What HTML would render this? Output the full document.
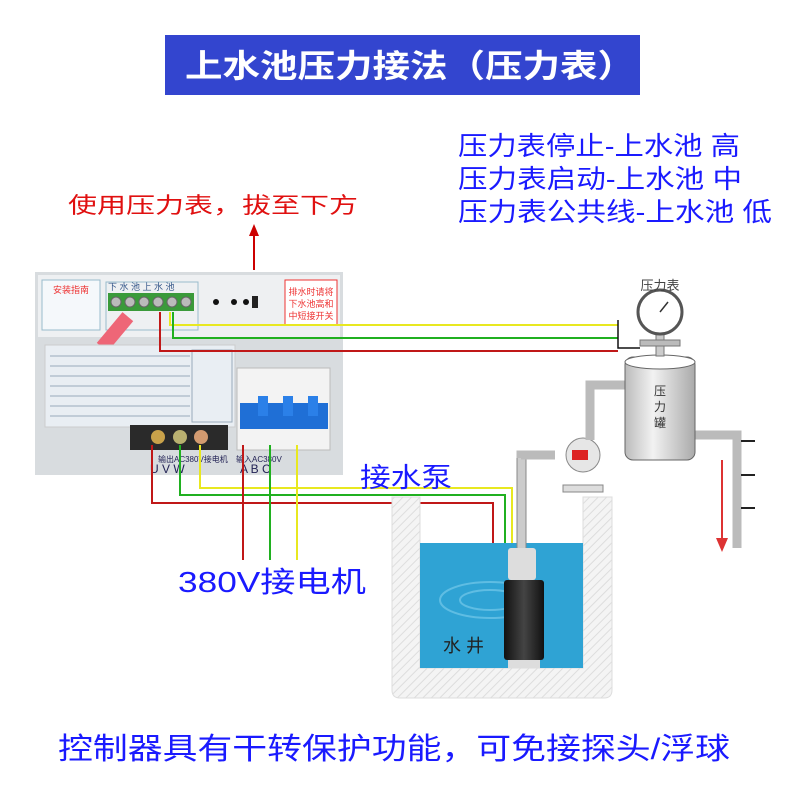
<!DOCTYPE html>
<html><head><meta charset="utf-8"><style>
body{margin:0;width:800px;height:800px;background:#fff;overflow:hidden}
svg{display:block}
text{font-family:"Liberation Sans","Noto Sans CJK SC",sans-serif}
</style></head><body>
<svg width="800" height="800" viewBox="0 0 800 800">
<defs>
<pattern id="h" width="6" height="6" patternUnits="userSpaceOnUse" patternTransform="rotate(45)"><rect width="6" height="6" fill="#f4f4f4"/><line x1="0" y1="0" x2="0" y2="6" stroke="#ddd" stroke-width="2"/></pattern>
<linearGradient id="tank" x1="0" x2="1"><stop offset="0" stop-color="#bbb"/><stop offset=".4" stop-color="#f2f2f2"/><stop offset="1" stop-color="#aaa"/></linearGradient>
<linearGradient id="pump" x1="0" x2="1"><stop offset="0" stop-color="#111"/><stop offset=".5" stop-color="#444"/><stop offset="1" stop-color="#111"/></linearGradient>
</defs>
<!-- title -->
<rect x="165" y="35" width="475" height="60" fill="#3345cf"/>
<text x="185" y="77" font-size="32" fill="#fff" font-weight="bold" textLength="450" lengthAdjust="spacingAndGlyphs">上水池压力接法（压力表）</text>
<!-- right text -->
<g font-size="26" fill="#1a1aff">
<text x="458" y="155" textLength="282" lengthAdjust="spacingAndGlyphs">压力表停止-上水池 高</text>
<text x="458" y="188" textLength="284" lengthAdjust="spacingAndGlyphs">压力表启动-上水池 中</text>
<text x="458" y="221" textLength="314" lengthAdjust="spacingAndGlyphs">压力表公共线-上水池 低</text>
</g>
<text x="68" y="213" font-size="22" fill="#e01010" textLength="290" lengthAdjust="spacingAndGlyphs">使用压力表，拔至下方</text>
<line x1="254" y1="270" x2="254" y2="232" stroke="#c00" stroke-width="2"/>
<polygon points="254,224 249,236 259,236" fill="#c00"/>
<!-- control box -->
<rect x="35" y="272" width="308" height="203" fill="#d8dcdf"/>
<rect x="38" y="275" width="302" height="62" fill="#eef0f2"/>
<rect x="42" y="280" width="58" height="50" fill="#f5f8fb" stroke="#9bc" />
<text x="71" y="293" font-size="9" fill="#e33" text-anchor="middle">安装指南</text>
<rect x="106" y="282" width="92" height="48" fill="none" stroke="#9bc"/>
<rect x="108" y="293" width="86" height="18" fill="#3a9a3a"/>
<g fill="#bbb" stroke="#666"><circle cx="116" cy="302" r="5"/><circle cx="130" cy="302" r="5"/><circle cx="144" cy="302" r="5"/><circle cx="158" cy="302" r="5"/><circle cx="172" cy="302" r="5"/><circle cx="186" cy="302" r="5"/></g>
<text x="108" y="290" font-size="9" fill="#358">下 水 池  上 水 池</text>
<circle cx="216" cy="302" r="3" fill="#111"/><circle cx="234" cy="302" r="3" fill="#111"/><circle cx="246" cy="302" r="3" fill="#111"/>
<rect x="252" y="296" width="6" height="12" fill="#222"/>
<rect x="285" y="280" width="52" height="45" fill="#fff" stroke="#e33"/>
<text x="311" y="295" font-size="9" fill="#e33" text-anchor="middle">排水时请将</text>
<text x="311" y="307" font-size="9" fill="#e33" text-anchor="middle">下水池高和</text>
<text x="311" y="319" font-size="9" fill="#e33" text-anchor="middle">中短接开关</text>
<rect x="95" y="325" width="40" height="14" fill="#e67" transform="rotate(-50 115 332)"/>
<rect x="45" y="345" width="190" height="82" fill="#e9eef3" stroke="#ccc"/>
<g stroke="#9ab" stroke-width="1">
<line x1="50" y1="356" x2="190" y2="356"/><line x1="50" y1="366" x2="190" y2="366"/><line x1="50" y1="376" x2="190" y2="376"/><line x1="50" y1="386" x2="190" y2="386"/><line x1="50" y1="396" x2="190" y2="396"/><line x1="50" y1="406" x2="190" y2="406"/><line x1="50" y1="416" x2="190" y2="416"/>
</g>
<rect x="192" y="350" width="40" height="72" fill="none" stroke="#9ab"/>
<rect x="237" y="368" width="93" height="82" fill="#f3f3f3" stroke="#bbb"/>
<rect x="240" y="403" width="88" height="26" fill="#1f6fd6"/>
<rect x="258" y="396" width="10" height="20" fill="#2b80e8"/><rect x="283" y="396" width="10" height="20" fill="#2b80e8"/><rect x="308" y="396" width="10" height="20" fill="#2b80e8"/>
<rect x="130" y="425" width="98" height="25" fill="#2a2a2a"/>
<circle cx="158" cy="437" r="7" fill="#c9a24a"/><circle cx="180" cy="437" r="7" fill="#b9b070"/><circle cx="201" cy="437" r="7" fill="#d29a70"/>
<text x="158" y="462" font-size="8" fill="#225">输出AC380V接电机</text>
<text x="150" y="473" font-size="12" fill="#225">U    V    W</text>
<text x="236" y="462" font-size="8" fill="#225">输入AC380V</text>
<text x="240" y="473" font-size="12" fill="#225">A   B   C</text>
<!-- wires -->
<g fill="none" stroke-width="2">
<polyline points="170,312 170,325 618,325" stroke="#e8e820"/>
<polyline points="173,312 173,338 618,338" stroke="#20b020"/>
<polyline points="160,312 160,351 618,351" stroke="#c01818"/>
<polyline points="618,320 618,348 640,348" stroke="#111" stroke-width="1.5"/>
<polyline points="200,445 200,488 512,488 512,548" stroke="#e8e820"/>
<polyline points="180,445 180,495 505,495 505,548" stroke="#20b020"/>
<polyline points="152,445 152,503 493,503 493,548" stroke="#c01818"/>
<line x1="243" y1="445" x2="243" y2="560" stroke="#c01818"/>
<line x1="270" y1="445" x2="270" y2="560" stroke="#20b020"/>
<line x1="297" y1="445" x2="297" y2="560" stroke="#e8e820"/>
</g>
<text x="360" y="487" font-size="27" fill="#1a1aff" textLength="92" lengthAdjust="spacingAndGlyphs">接水泵</text>
<text x="178" y="592" font-size="29" fill="#1a1aff" textLength="188" lengthAdjust="spacingAndGlyphs">380V接电机</text>
<!-- well -->
<path d="M392,497 H420 V668 H583 V497 H612 V690 Q612,698 604,698 H400 Q392,698 392,690 Z" fill="url(#h)" stroke="#ddd"/>
<rect x="420" y="543" width="163" height="125" fill="#2fa3d4"/>
<ellipse cx="490" cy="600" rx="50" ry="18" fill="none" stroke="#5fbde3" stroke-width="2"/>
<ellipse cx="490" cy="600" rx="30" ry="10" fill="none" stroke="#5fbde3" stroke-width="2"/>
<text x="443" y="652" font-size="18" fill="#222">水 井</text>
<rect x="517" y="455" width="9" height="95" fill="#ccc" stroke="#888"/>
<rect x="508" y="548" width="28" height="32" fill="#ddd" rx="3"/>
<rect x="504" y="580" width="40" height="80" fill="url(#pump)" rx="3"/>
<rect x="508" y="660" width="32" height="8" fill="#ddd"/>
<!-- surface pump & pipes -->
<path d="M521,458 V455 H555" stroke="#bbb" stroke-width="9" fill="none"/>
<circle cx="583" cy="455" r="17" fill="#e6e6e6" stroke="#888"/>
<rect x="572" y="450" width="16" height="10" fill="#d22"/>
<rect x="563" y="485" width="40" height="7" fill="#ddd" stroke="#888"/>
<path d="M590,440 V385 H625" stroke="#bbb" stroke-width="9" fill="none"/>
<path d="M695,435 H737 V548" stroke="#bbb" stroke-width="9" fill="none"/>
<g stroke="#222" stroke-width="2"><line x1="741" y1="441" x2="755" y2="441"/><line x1="741" y1="475" x2="755" y2="475"/><line x1="741" y1="508" x2="755" y2="508"/></g>
<line x1="722" y1="460" x2="722" y2="540" stroke="#d33" stroke-width="2"/>
<polygon points="722,552 716,538 728,538" fill="#d33"/>
<!-- tank -->
<rect x="625" y="357" width="70" height="103" rx="8" fill="url(#tank)" stroke="#666"/>
<ellipse cx="660" cy="362" rx="35" ry="7" fill="#fff" stroke="#666"/>
<text x="660" y="395" font-size="12" fill="#333" text-anchor="middle">压</text>
<text x="660" y="411" font-size="12" fill="#333" text-anchor="middle">力</text>
<text x="660" y="427" font-size="12" fill="#333" text-anchor="middle">罐</text>
<rect x="656" y="334" width="8" height="22" fill="#ccc" stroke="#777"/>
<rect x="640" y="340" width="40" height="6" fill="#bbb" stroke="#777"/>
<circle cx="660" cy="312" r="22" fill="#fff" stroke="#555" stroke-width="3"/>
<line x1="660" y1="312" x2="668" y2="302" stroke="#333" stroke-width="1.5"/>
<text x="660" y="290" font-size="13" fill="#444" text-anchor="middle">压力表</text>
<!-- bottom -->
<text x="58" y="759" font-size="30" fill="#1a1aff" textLength="672" lengthAdjust="spacingAndGlyphs">控制器具有干转保护功能，可免接探头/浮球</text>
</svg>
</body></html>
